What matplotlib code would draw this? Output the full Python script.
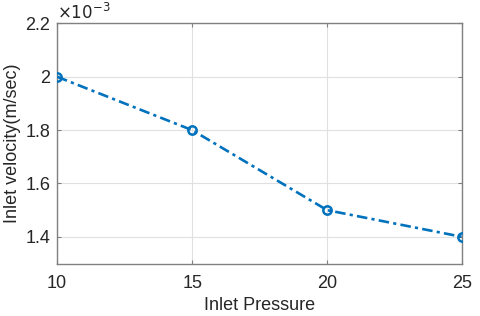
import matplotlib
matplotlib.use("Agg")
import matplotlib.pyplot as plt

pressure = [10, 15, 20, 25]
velocity_e3 = [2.0, 1.8, 1.5, 1.4]  # in units of 1e-3 m/sec
yticks = [1.4, 1.6, 1.8, 2.0, 2.2]
ytick_labels = ["1.4", "1.6", "1.8", "2", "2.2"]
xticks = [10, 15, 20, 25]

plt.rcParams['font.family'] = ['Liberation Sans', 'DejaVu Sans']
fig = plt.figure(figsize=(4.8, 3.16), dpi=100)
ax = fig.add_axes([0.119, 0.166, 0.844, 0.760])
ax.plot(pressure, velocity_e3, linestyle='-.', color='#0072BD', linewidth=1.9,
        marker='o', markersize=6, markerfacecolor='none', markeredgewidth=1.8, zorder=3,
        dashes=(4, 1.6, 1.2, 1.6))
ax.set_xlim(10, 25)
ax.set_ylim(1.3, 2.2)
ax.set_xticks(xticks)
ax.set_yticks(yticks)
ax.set_yticklabels(ytick_labels)
ax.grid(True, color='#e0e0e0', linewidth=0.8)
ax.tick_params(direction='in', length=3, colors='#808080', labelcolor='#262626',
               labelsize=13, top=True, right=True)
ax.tick_params(axis='x', pad=8)
ax.tick_params(axis='y', pad=5)
for s in ax.spines.values():
    s.set_color('#808080')
    s.set_linewidth(1)
ax.set_xlabel('Inlet Pressure', fontsize=13, color='#262626', labelpad=4)
ax.set_ylabel('Inlet velocity(m/sec)', fontsize=13, color='#262626', labelpad=3)
ax.text(0.0, 1.005, r'$\times10^{-3}$', transform=ax.transAxes, fontsize=12,
        color='#262626', ha='left', va='bottom', math_fontfamily='dejavusans')
fig.savefig('out.png', dpi=100)
